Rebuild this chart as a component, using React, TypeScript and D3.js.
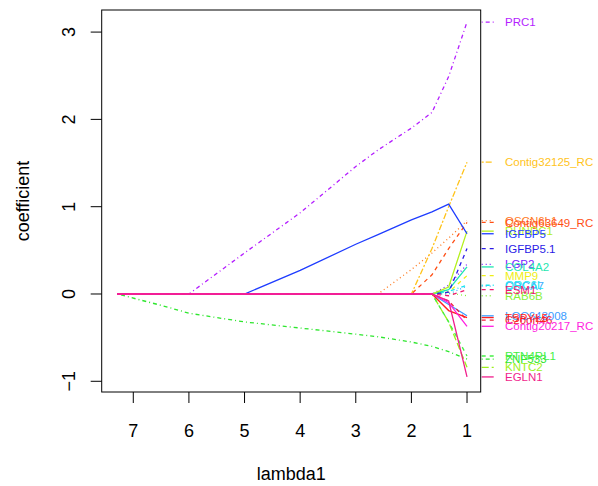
import React from "react";
import * as d3 from "d3";

// lambda1 grid (x values of the path)
const lambdas = [7.29, 6.5, 6, 5, 4, 3, 2.6, 2, 1.63, 1.33, 1];

// coefficient paths, one array per gene (values at each lambda)
const seriesNames = [
  "ZNF533", "RAB6B", "CDCA7", "ORC6L", "ESM1", "MMP9", "LGP2", "COL4A2",
  "IGFBP5.1", "QSCN6L1", "Contig63649_RC", "Contig32125_RC", "RUNDC1", "IGFBP5",
  "PRC1", "KNTC2", "RTN4RL1", "LOC643008", "C20orf46", "TSPYL5", "Contig20217_RC", "EGLN1",
];
const ZNF533 = [0, -0.13, -0.22, -0.32, -0.39, -0.46, -0.49, -0.55, -0.6, -0.66, -0.745];
const RAB6B = [0, 0, 0, 0, 0, 0, 0, 0, 0, 0.01, -0.02];
const CDCA7 = [0, 0, 0, 0, 0, 0, 0, 0, 0, 0.0, 0.09];
const ORC6L = [0, 0, 0, 0, 0, 0, 0, 0, 0, 0.03, 0.1];
const ESM1 = [0, 0, 0, 0, 0, 0, 0, 0, 0, -0.02, 0.05];
const MMP9 = [0, 0, 0, 0, 0, 0, 0, 0, 0, 0.02, 0.21];
const LGP2 = [0, 0, 0, 0, 0, 0, 0, 0, 0, 0.1, 0.34];
const COL4A2 = [0, 0, 0, 0, 0, 0, 0, 0, 0, 0.05, 0.31];
const IGFBP5_1 = [0, 0, 0, 0, 0, 0, 0, 0, 0, 0.02, 0.52];
const QSCN6L1 = [0, 0, 0, 0, 0, 0, 0, 0.28, 0.47, 0.64, 0.84];
const Contig63649_RC = [0, 0, 0, 0, 0, 0, 0, 0, 0.22, 0.52, 0.82];
const Contig32125_RC = [0, 0, 0, 0, 0, 0, 0, 0, 0.52, 1.0, 1.51];
const RUNDC1 = [0, 0, 0, 0, 0, 0, 0, 0, 0, 0.08, 0.72];
const IGFBP5 = [0, 0, 0, 0, 0.27, 0.57, 0.68, 0.85, 0.94, 1.03, 0.69];
const PRC1 = [0, 0, 0, 0.47, 0.93, 1.46, 1.65, 1.9, 2.08, 2.49, 3.115];
const KNTC2 = [0, 0, 0, 0, 0, 0, 0, 0, 0, -0.32, -0.84];
const RTN4RL1 = [0, 0, 0, 0, 0, 0, 0, 0, 0, -0.32, -0.71];
const LOC643008 = [0, 0, 0, 0, 0, 0, 0, 0, 0, -0.12, -0.25];
const C20orf46 = [0, 0, 0, 0, 0, 0, 0, 0, 0, -0.08, -0.3];
const TSPYL5 = [0, 0, 0, 0, 0, 0, 0, 0, 0, -0.19, -0.27];
const Contig20217_RC = [0, 0, 0, 0, 0, 0, 0, 0, 0, -0.1, -0.37];
const EGLN1 = [0, 0, 0, 0, 0, 0, 0, 0, 0, -0.08, -0.95];

const seriesValues = [
  ZNF533, RAB6B, CDCA7, ORC6L, ESM1, MMP9, LGP2, COL4A2,
  IGFBP5_1, QSCN6L1, Contig63649_RC, Contig32125_RC, RUNDC1, IGFBP5,
  PRC1, KNTC2, RTN4RL1, LOC643008, C20orf46, TSPYL5, Contig20217_RC, EGLN1,
];
const seriesColors = [
  "#2EE62E", "#88F03C", "#3CAEFF", "#16E6F0", "#F0186E", "#EEEE14", "#7A1EFF", "#1EE6B0",
  "#2A1AE6", "#FF7A1E", "#FF4E14", "#FFC31A", "#B4F01E", "#1E3CFF",
  "#B41EFF", "#9CF01A", "#44F044", "#3C9CFF", "#F0203C", "#FF1E1E", "#FF1EE0", "#F01E8C",
];
const seriesDash = [
  "1 3 4 3", "1 3", "1 3", "1 3 4 3", "4 4", "4 4", "1 3", "",
  "4 4", "1 3", "4 4", "2 2 6 2", "", "",
  "1 3 4 3", "7 3", "4 4", "", "4 4", "", "", "",
];

const xTicks = [7, 6, 5, 4, 3, 2, 1];
const yTicks = [-1, 0, 1, 2, 3];

export default function App() {
  const W = 598, H = 486;
  const left = 101.7, right = 480.7, top = 10, bottom = 392;
  const x = d3.scaleLinear().domain([7.568, 0.754]).range([left, right]);
  const y = d3.scaleLinear().domain([3.253, -1.1226]).range([top, bottom]);
  const line = d3.line<number>().x((_, i) => x(lambdas[i])).y((v) => y(v));
  const font = "Liberation Sans, Arial, Helvetica, sans-serif";

  return (
    <svg width={W} height={H} style={{ position: "absolute", left: 0, top: 0, background: "#fff" }}
      fontFamily={font}>
      <defs>
        <clipPath id="plotclip">
          <rect x={left} y={top} width={right - left} height={bottom - top} />
        </clipPath>
      </defs>
      <g clipPath="url(#plotclip)">
        {seriesValues.map((vals, i) => (
          <path key={seriesNames[i]} d={line(vals) || ""} fill="none" stroke={seriesColors[i]}
            strokeWidth={1.3} strokeDasharray={seriesDash[i] || undefined} />
        ))}
      </g>
      {/* right margin markers and labels */}
      {seriesValues.map((vals, i) => {
        const v = vals[vals.length - 1];
        return (
          <g key={"lab" + seriesNames[i]}>
            <line x1={right + 1} x2={right + 13} y1={y(v)} y2={y(v)} stroke={seriesColors[i]}
              strokeWidth={1.3} strokeDasharray={seriesDash[i] || undefined} />
            <text x={505} y={y(v)} dy="0.36em" fontSize={11.5} fill={seriesColors[i]}>{seriesNames[i]}</text>
          </g>
        );
      })}
      <rect x={left} y={top} width={right - left} height={bottom - top} fill="none" stroke="#000" strokeWidth={1} />
      {xTicks.map((t) => (
        <g key={"xt" + t}>
          <line x1={x(t)} x2={x(t)} y1={bottom} y2={bottom + 11} stroke="#000" />
          <text x={x(t)} y={437} textAnchor="middle" fontSize={18}>{t}</text>
        </g>
      ))}
      {yTicks.map((t) => (
        <g key={"yt" + t}>
          <line x1={left} x2={left - 11} y1={y(t)} y2={y(t)} stroke="#000" />
          <text transform={`translate(75,${y(t)}) rotate(-90)`} textAnchor="middle" fontSize={18}>
            {t < 0 ? "\u2212" + Math.abs(t) : String(t)}
          </text>
        </g>
      ))}
      <text x={(left + right) / 2} y={480} textAnchor="middle" fontSize={18}>lambda1</text>
      <text transform={`translate(29,${(top + bottom) / 2}) rotate(-90)`} textAnchor="middle" fontSize={18}>coefficient</text>
    </svg>
  );
}
